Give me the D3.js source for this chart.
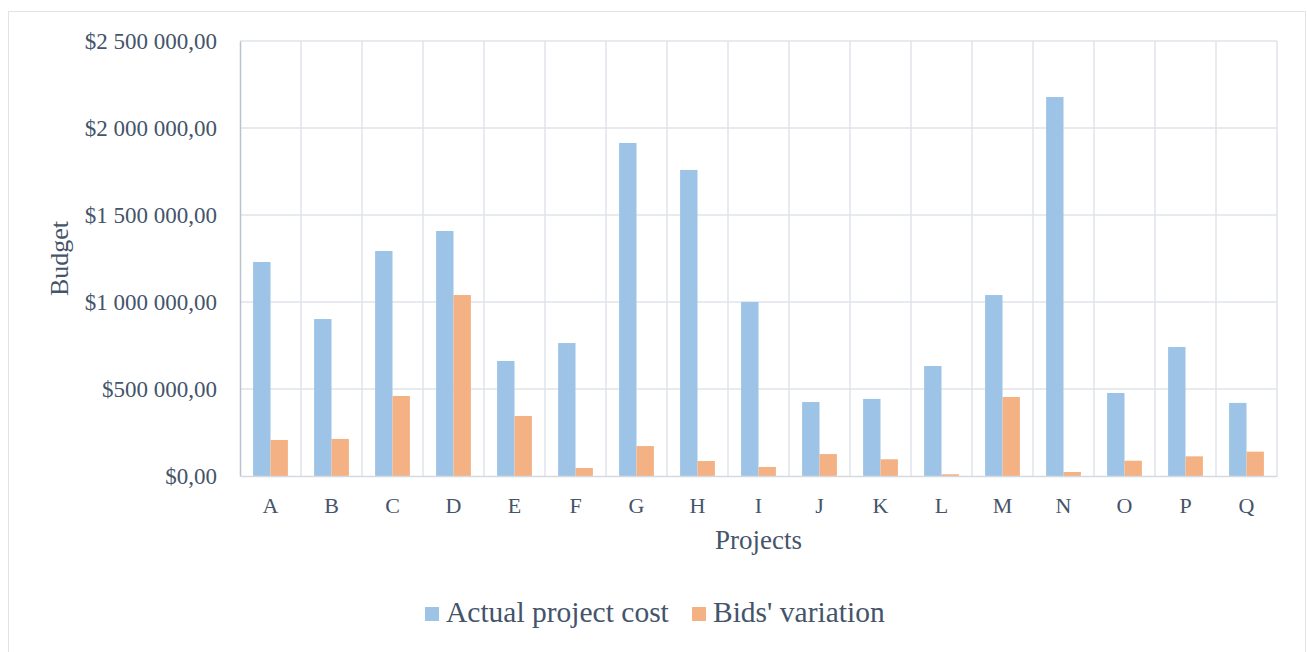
<!DOCTYPE html>
<html>
<head>
<meta charset="utf-8">
<script src="https://cdn.jsdelivr.net/npm/d3@7"></script>
<style>
  body { margin: 0; background: #fff; }
  svg { display: block; }
  svg text { font-family: "Liberation Serif", "Times New Roman", serif; }
</style>
</head>
<body>
<div id="wrapper"></div>
<script>
// data
const projects = ["A","B","C","D","E","F","G","H","I","J","K","L","M","N","O","P","Q"]
const actualCost = [1230000, 902000, 1293000, 1408000, 661000, 764000, 1914000, 1759000, 1000000, 425000, 443000, 632000, 1040000, 2178000, 477000, 741000, 420000]
const bidsVariation = [207000, 213000, 460000, 1040000, 345000, 46000, 172000, 86000, 52000, 126000, 96000, 10000, 454000, 23000, 88000, 113000, 140000]
const yTicks = [0, 500000, 1000000, 1500000, 2000000, 2500000]
const seriesNames = ["Actual project cost", "Bids' variation"]
const seriesColors = ["#9dc3e6", "#f4b183"]

const textColor = "#44546a"

const dimensions = {
  width: 1307,
  height: 652,
  margins: { top: 41, right: 30, bottom: 176, left: 240 },
}
dimensions.boundedWidth = dimensions.width - dimensions.margins.left - dimensions.margins.right
dimensions.boundedHeight = dimensions.height - dimensions.margins.top - dimensions.margins.bottom

const svg = d3.select("#wrapper")
  .append("svg")
  .attr("width", dimensions.width)
  .attr("height", dimensions.height)

// chart frame
svg.append("rect")
  .attr("x", 8.5).attr("y", 11.5)
  .attr("width", 1297).attr("height", 645)
  .attr("fill", "none")
  .attr("stroke", "#dfe3ea")

const bounds = svg.append("g")
  .attr("transform", `translate(${dimensions.margins.left},${dimensions.margins.top})`)

const xScale = d3.scaleBand()
  .domain(projects)
  .range([0, dimensions.boundedWidth])

const yScale = d3.scaleLinear()
  .domain([0, 2500000])
  .range([dimensions.boundedHeight, 0])

const locale = d3.formatLocale({ decimal: ",", thousands: " ", grouping: [3], currency: ["$", ""] })
const formatMoney = locale.format("$,.2f")

// gridlines
const grid = bounds.append("g").attr("stroke", "#dfe3ea").attr("stroke-width", 1.5)
grid.selectAll(".h")
  .data(yTicks.slice(1))
  .join("line")
  .attr("x1", 0).attr("x2", dimensions.boundedWidth)
  .attr("y1", d => yScale(d)).attr("y2", d => yScale(d))
grid.selectAll(".v")
  .data(projects.slice(1).concat(["end"]))
  .join("line")
  .attr("x1", d => d === "end" ? dimensions.boundedWidth : xScale(d))
  .attr("x2", d => d === "end" ? dimensions.boundedWidth : xScale(d))
  .attr("y1", 0).attr("y2", dimensions.boundedHeight)

// bars
const bw = xScale.bandwidth()
const barWidth = bw * 0.285
const outer = (bw - 2 * barWidth) / 2
const seriesData = [actualCost, bidsVariation]

seriesData.forEach((values, si) => {
  bounds.append("g")
    .selectAll("rect")
    .data(values)
    .join("rect")
    .attr("x", (d, i) => xScale(projects[i]) + outer + si * barWidth)
    .attr("y", d => yScale(d))
    .attr("width", barWidth)
    .attr("height", d => yScale(0) - yScale(d))
    .attr("fill", seriesColors[si])
})

// axes
const yAxis = bounds.append("g")
  .call(d3.axisLeft(yScale).tickValues(yTicks).tickFormat(formatMoney).tickSize(0).tickPadding(23))
yAxis.attr("font-family", null).attr("font-size", null)
yAxis.select(".domain").attr("stroke", "#b8c2d0").attr("stroke-width", 1.5)
yAxis.selectAll("text")
  .attr("fill", textColor)
  .style("font-size", "23px")

const xAxis = bounds.append("g")
  .attr("transform", `translate(0,${dimensions.boundedHeight})`)
  .call(d3.axisBottom(xScale).tickSize(0).tickPadding(21))
xAxis.attr("font-family", null).attr("font-size", null)
xAxis.select(".domain").attr("stroke", "#d4d9e1").attr("stroke-width", 1.5)
xAxis.selectAll("text")
  .attr("fill", textColor)
  .style("font-size", "22px")

// axis titles
svg.append("text")
  .attr("transform", `translate(68,${dimensions.margins.top + dimensions.boundedHeight / 2}) rotate(-90)`)
  .attr("text-anchor", "middle")
  .attr("fill", textColor)
  .style("font-size", "26px")
  .text("Budget")

svg.append("text")
  .attr("x", dimensions.margins.left + dimensions.boundedWidth / 2)
  .attr("y", 549)
  .attr("text-anchor", "middle")
  .attr("fill", textColor)
  .style("font-size", "27px")
  .text("Projects")

// legend
const legend = svg.append("g")
const legendX = [425, 692]
seriesNames.forEach((name, i) => {
  const g = legend.append("g").attr("transform", `translate(${legendX[i]},607)`)
  g.append("rect")
    .attr("width", 14).attr("height", 14)
    .attr("fill", seriesColors[i])
  g.append("text")
    .attr("x", 21).attr("y", 15)
    .attr("fill", textColor)
    .style("font-size", "29.5px")
    .text(name)
})
</script>
</body>
</html>
